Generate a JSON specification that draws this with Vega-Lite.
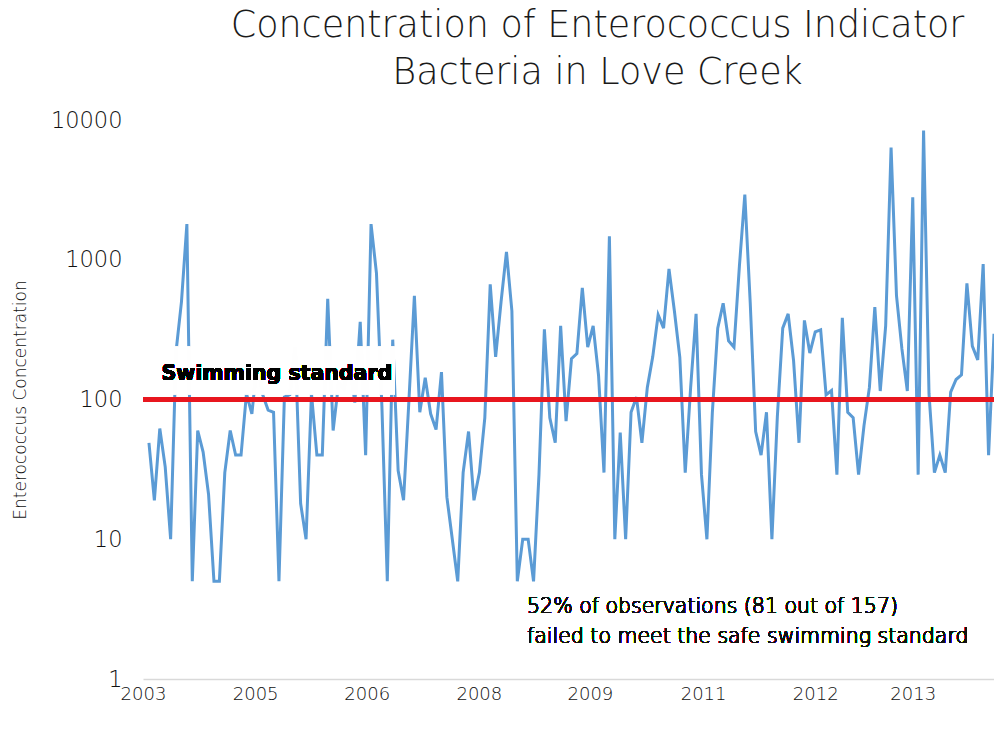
{
  "$schema": "https://vega.github.io/schema/vega-lite/v6.json",
  "autosize": {"type": "none"},
  "padding": {"left": 143, "top": 120, "right": 0, "bottom": 51},
  "width": 851,
  "height": 559,
  "background": "white",
  "config": {
    "view": {"stroke": null},
    "font": "DejaVu Sans"
  },
  "title": {
    "text": ["Concentration of Enterococcus Indicator", "Bacteria in Love Creek"],
    "anchor": "middle",
    "dx": 29,
    "fontSize": 36.5,
    "fontWeight": 200,
    "font": "DejaVu Sans",
    "color": "#1a1a1a",
    "lineHeight": 47,
    "offset": 18
  },
  "data": {
    "values": [
      {"i": 0, "v": 49}, {"i": 1, "v": 19}, {"i": 2, "v": 62}, {"i": 3, "v": 33}, {"i": 4, "v": 10},
      {"i": 5, "v": 220}, {"i": 6, "v": 500}, {"i": 7, "v": 1800}, {"i": 8, "v": 5}, {"i": 9, "v": 60},
      {"i": 10, "v": 42}, {"i": 11, "v": 21}, {"i": 12, "v": 5}, {"i": 13, "v": 5}, {"i": 14, "v": 30},
      {"i": 15, "v": 60}, {"i": 16, "v": 40}, {"i": 17, "v": 40}, {"i": 18, "v": 110}, {"i": 19, "v": 79},
      {"i": 20, "v": 190}, {"i": 21, "v": 108}, {"i": 22, "v": 84}, {"i": 23, "v": 81}, {"i": 24, "v": 5},
      {"i": 25, "v": 104}, {"i": 26, "v": 108}, {"i": 27, "v": 237}, {"i": 28, "v": 18}, {"i": 29, "v": 10},
      {"i": 30, "v": 110}, {"i": 31, "v": 40}, {"i": 32, "v": 40}, {"i": 33, "v": 526}, {"i": 34, "v": 60},
      {"i": 35, "v": 130}, {"i": 36, "v": 120}, {"i": 37, "v": 190}, {"i": 38, "v": 95}, {"i": 39, "v": 360},
      {"i": 40, "v": 40}, {"i": 41, "v": 1800}, {"i": 42, "v": 800}, {"i": 43, "v": 90}, {"i": 44, "v": 5},
      {"i": 45, "v": 268}, {"i": 46, "v": 31}, {"i": 47, "v": 19}, {"i": 48, "v": 100}, {"i": 49, "v": 553},
      {"i": 50, "v": 81}, {"i": 51, "v": 143}, {"i": 52, "v": 79}, {"i": 53, "v": 61}, {"i": 54, "v": 157},
      {"i": 55, "v": 20}, {"i": 56, "v": 10}, {"i": 57, "v": 5}, {"i": 58, "v": 30}, {"i": 59, "v": 59},
      {"i": 60, "v": 19}, {"i": 61, "v": 30}, {"i": 62, "v": 74}, {"i": 63, "v": 668}, {"i": 64, "v": 202},
      {"i": 65, "v": 500}, {"i": 66, "v": 1140}, {"i": 67, "v": 430}, {"i": 68, "v": 5}, {"i": 69, "v": 10},
      {"i": 70, "v": 10}, {"i": 71, "v": 5}, {"i": 72, "v": 29}, {"i": 73, "v": 318}, {"i": 74, "v": 74},
      {"i": 75, "v": 49}, {"i": 76, "v": 336}, {"i": 77, "v": 70}, {"i": 78, "v": 196}, {"i": 79, "v": 213},
      {"i": 80, "v": 628}, {"i": 81, "v": 237}, {"i": 82, "v": 336}, {"i": 83, "v": 148}, {"i": 84, "v": 30},
      {"i": 85, "v": 1470}, {"i": 86, "v": 10}, {"i": 87, "v": 58}, {"i": 88, "v": 10}, {"i": 89, "v": 81},
      {"i": 90, "v": 104}, {"i": 91, "v": 49}, {"i": 92, "v": 122}, {"i": 93, "v": 202}, {"i": 94, "v": 404},
      {"i": 95, "v": 324}, {"i": 96, "v": 860}, {"i": 97, "v": 430}, {"i": 98, "v": 200}, {"i": 99, "v": 30},
      {"i": 100, "v": 122}, {"i": 101, "v": 410}, {"i": 102, "v": 29}, {"i": 103, "v": 10}, {"i": 104, "v": 80},
      {"i": 105, "v": 324}, {"i": 106, "v": 488}, {"i": 107, "v": 263}, {"i": 108, "v": 237}, {"i": 109, "v": 900},
      {"i": 110, "v": 2930}, {"i": 111, "v": 490}, {"i": 112, "v": 59}, {"i": 113, "v": 40}, {"i": 114, "v": 81},
      {"i": 115, "v": 10}, {"i": 116, "v": 75}, {"i": 117, "v": 324}, {"i": 118, "v": 410}, {"i": 119, "v": 190},
      {"i": 120, "v": 49}, {"i": 121, "v": 368}, {"i": 122, "v": 215}, {"i": 123, "v": 305}, {"i": 124, "v": 315},
      {"i": 125, "v": 108}, {"i": 126, "v": 116}, {"i": 127, "v": 29}, {"i": 128, "v": 384}, {"i": 129, "v": 81},
      {"i": 130, "v": 74}, {"i": 131, "v": 29}, {"i": 132, "v": 65}, {"i": 133, "v": 122}, {"i": 134, "v": 458},
      {"i": 135, "v": 115}, {"i": 136, "v": 336}, {"i": 137, "v": 6360}, {"i": 138, "v": 553}, {"i": 139, "v": 230},
      {"i": 140, "v": 115}, {"i": 141, "v": 2800}, {"i": 142, "v": 29}, {"i": 143, "v": 8400}, {"i": 144, "v": 110},
      {"i": 145, "v": 30}, {"i": 146, "v": 40}, {"i": 147, "v": 30}, {"i": 148, "v": 113}, {"i": 149, "v": 139},
      {"i": 150, "v": 150}, {"i": 151, "v": 677}, {"i": 152, "v": 241}, {"i": 153, "v": 192}, {"i": 154, "v": 930},
      {"i": 155, "v": 40}, {"i": 156, "v": 295}
    ]
  },
  "layer": [
    {
      "mark": {"type": "line", "color": "#5b9bd5", "strokeWidth": 3, "clip": true},
      "encoding": {
        "x": {
          "field": "i",
          "type": "quantitative",
          "scale": {"domain": [-1.1, 156], "nice": false, "zero": false},
          "axis": {
            "title": null,
            "values": [-1.1, 19.6, 40.2, 60.9, 81.4, 102.3, 123, 141],
            "labelExpr": "datum.value < 0 ? '2003' : datum.value < 30 ? '2005' : datum.value < 50 ? '2006' : datum.value < 70 ? '2008' : datum.value < 90 ? '2009' : datum.value < 110 ? '2011' : datum.value < 130 ? '2012' : '2013'",
            "grid": false,
            "ticks": false,
            "domainColor": "#d9d9d9",
            "domainWidth": 1.5,
            "labelFont": "DejaVu Sans",
            "labelFontWeight": 200,
            "labelFontSize": 18,
            "labelColor": "#111111",
            "labelPadding": 6,
            "labelFlush": false
          }
        },
        "y": {
          "field": "v",
          "type": "quantitative",
          "scale": {"type": "log", "domain": [1, 10000], "nice": false},
          "axis": {
            "title": "Enterococcus  Concentration",
            "values": [1, 10, 100, 1000, 10000],
            "format": "d",
            "grid": false,
            "ticks": false,
            "domain": false,
            "labelFont": "DejaVu Sans",
            "labelFontWeight": 200,
            "labelFontSize": 22.5,
            "labelColor": "#111111",
            "labelPadding": 21,
            "titleFont": "DejaVu Sans",
            "titleFontWeight": 300,
            "titleFontSize": 17,
            "titleColor": "#111111",
            "titlePadding": 21
          }
        }
      }
    },
    {
      "mark": {"type": "rect", "fill": "white", "opacity": 0.45},
      "encoding": {
        "x": {"datum": 1.7, "type": "quantitative"},
        "x2": {"datum": 45.4},
        "y": {"datum": 238, "type": "quantitative"},
        "y2": {"datum": 109}
      }
    },
    {
      "mark": {"type": "rule", "color": "#e8161f", "strokeWidth": 4},
      "encoding": {
        "y": {"datum": 100, "type": "quantitative"}
      }
    },
    {
      "mark": {"type": "text", "align": "center", "baseline": "alphabetic", "fontSize": 20.5, "fontWeight": "bold", "font": "DejaVu Sans", "color": "#000000"},
      "encoding": {
        "x": {"datum": 23.6, "type": "quantitative"},
        "y": {"datum": 138, "type": "quantitative"},
        "text": {"value": "Swimming standard"}
      }
    },
    {
      "mark": {"type": "text", "align": "left", "baseline": "alphabetic", "fontSize": 20.5, "fontWeight": 200, "font": "DejaVu Sans", "color": "#111111", "lineHeight": 30},
      "encoding": {
        "x": {"datum": 69.8, "type": "quantitative"},
        "y": {"datum": 2.97, "type": "quantitative"},
        "text": {"value": ["52% of observations (81 out of 157)", "failed to meet the safe swimming standard"]}
      }
    }
  ]
}
